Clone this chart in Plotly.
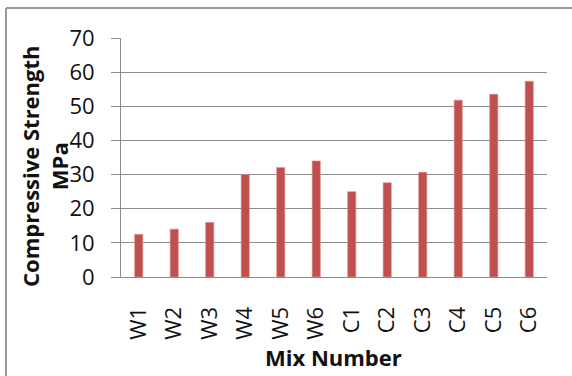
import plotly.graph_objects as go

# Mix designs and their measured compressive strength (MPa)
mixes = ["W1", "W2", "W3", "W4", "W5", "W6", "C1", "C2", "C3", "C4", "C5", "C6"]
strength = [12.5, 14.0, 16.0, 30.0, 32.1, 34.0, 25.0, 27.6, 30.7, 51.8, 53.5, 57.3]
y_ticks = [0, 10, 20, 30, 40, 50, 60, 70]

W, H = 572, 376
L, R, T, B = 121, 25, 38, 99
pw, ph = W - L - R, H - T - B

def px_x(x):
    return (x - L) / pw

def px_y(y):
    return (H - B - y) / ph

font_family = "Open Sans"
grid_col = "#8c8c8c"
text_col = "#111111"

fig = go.Figure(
    go.Bar(
        x=mixes,
        y=strength,
        marker=dict(color="#C0504D", line=dict(color="#d9908e", width=0.6)),
        width=0.23,
    )
)

fig.update_layout(
    width=W,
    height=H,
    margin=dict(l=L, r=R, t=T, b=B, pad=0),
    paper_bgcolor="white",
    plot_bgcolor="white",
    showlegend=False,
    font=dict(family=font_family, color=text_col),
)

fig.update_xaxes(
    type="category",
    tickangle=-90,
    tickfont=dict(size=22, color=text_col),
    showgrid=False,
    showline=True,
    linecolor=grid_col,
    linewidth=1,
    ticks="",
    ticklabelstandoff=20,
)

fig.update_yaxes(
    range=[0, 70],
    tickvals=y_ticks,
    tickfont=dict(size=22, color=text_col),
    showgrid=True,
    gridcolor=grid_col,
    gridwidth=1,
    showline=True,
    linecolor=grid_col,
    linewidth=1,
    ticks="outside",
    ticklen=9,
    tickcolor=grid_col,
    ticklabelstandoff=12,
    zeroline=False,
)

# Axis titles
fig.add_annotation(
    text="<b>Compressive Strength<br>MPa</b>",
    xref="paper", yref="paper",
    x=px_x(44), y=px_y(166),
    xanchor="center", yanchor="middle",
    textangle=-90, showarrow=False,
    font=dict(size=22, family=font_family, color=text_col),
)
fig.add_annotation(
    text="<b>Mix Number</b>",
    xref="paper", yref="paper",
    x=px_x(333), y=px_y(357),
    xanchor="center", yanchor="middle",
    showarrow=False,
    font=dict(size=22, family=font_family, color=text_col),
)

# Chart-area frame (left and top edges)
frame = dict(color="#9a9a9a", width=2)
fig.add_shape(type="line", xref="paper", yref="paper",
              x0=px_x(6), x1=px_x(6), y0=px_y(8), y1=px_y(400), line=frame)
fig.add_shape(type="line", xref="paper", yref="paper",
              x0=px_x(6), x1=px_x(600), y0=px_y(8), y1=px_y(8), line=frame)

fig.write_html("out.html")
